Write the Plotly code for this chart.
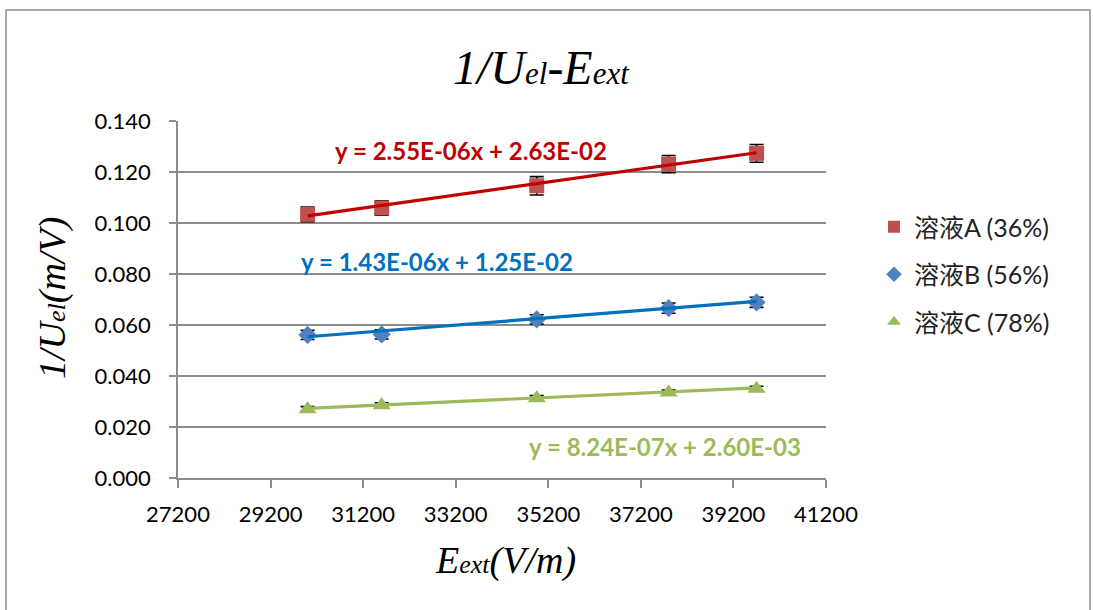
import plotly.graph_objects as go

# Applied field E_ext (V/m) for each measurement
e_ext = [30000, 31600, 34950, 37800, 39700]

# 1/U_el (m/V) for the three solutions
inv_u_a = [0.1034, 0.1059, 0.1146, 0.1231, 0.1273]
inv_u_b = [0.0561, 0.0563, 0.0622, 0.0666, 0.0689]
inv_u_c = [0.0270, 0.0285, 0.0313, 0.0335, 0.0350]

# Uncertainties of 1/U_el
err_a = [0.0029, 0.0028, 0.0036, 0.0034, 0.0035]
err_b = [0.0018, 0.0018, 0.0018, 0.0020, 0.0020]
err_c = [0.0010, 0.0010, 0.0010, 0.0010, 0.0010]

# Linear fits y = slope * x + intercept
slopes = [2.55e-06, 1.43e-06, 8.24e-07]
intercepts = [2.63e-02, 1.25e-02, 2.60e-03]

names = ["溶液A (36%)", "溶液B (56%)", "溶液C (78%)"]
fit_labels = ["y = 2.55E-06x + 2.63E-02",
              "y = 1.43E-06x + 1.25E-02",
              "y = 8.24E-07x + 2.60E-03"]
fit_label_pos = [(33520, 0.1285), (32790, 0.0848), (37730, 0.0124)]

x_ticks = [27200, 29200, 31200, 33200, 35200, 37200, 39200, 41200]
y_ticks = [0.000, 0.020, 0.040, 0.060, 0.080, 0.100, 0.120, 0.140]

marker_colors = ["#C0504D", "#4F81BD", "#9BBB59"]
line_colors = ["#C00000", "#0070C0", "#9BBB59"]
symbols = ["square", "diamond", "triangle-up"]
sizes = [15, 14, 16]

series = [inv_u_a, inv_u_b, inv_u_c]
errors = [err_a, err_b, err_c]

# Plot-area geometry in pixels (figure is 1093 x 610)
L, R, T, B = 178, 826, 121, 478


def px_x(p):
    return (p - L) / (R - L)


def px_y(p):
    return (B - p) / (B - T)


fig = go.Figure()

for i in range(3):
    fig.add_trace(go.Scatter(
        x=e_ext, y=series[i], mode="markers", name=names[i],
        legendgroup=str(i),
        marker=dict(symbol=symbols[i], size=sizes[i], color=marker_colors[i]),
        error_y=dict(type="data", array=errors[i], visible=True,
                     color="black", thickness=1.6, width=7),
    ))

# Trendlines over the data span
for i in range(3):
    xs = [e_ext[0], e_ext[-1]]
    ys = [slopes[i] * x + intercepts[i] for x in xs]
    fig.add_trace(go.Scatter(
        x=xs, y=ys, mode="lines", showlegend=False, hoverinfo="skip",
        line=dict(color=line_colors[i], width=3.2),
    ))

serif = "Liberation Serif, Times New Roman, serif"
sans = "Lato, Noto Sans CJK SC, sans-serif"

annotations = []
for i in range(3):
    annotations.append(dict(
        x=fit_label_pos[i][0], y=fit_label_pos[i][1], xref="x", yref="y",
        text="<b>" + fit_labels[i] + "</b>", showarrow=False,
        font=dict(family=sans, size=24, color=line_colors[i]),
    ))

# Chart title and axis titles
annotations.append(dict(
    x=px_x(541), y=px_y(67), xref="paper", yref="paper",
    text="<i>1/U<span style='font-size:31px'>el</span>-E<span style='font-size:31px'>ext</span></i>",
    showarrow=False, font=dict(family=serif, size=48, color="black"),
    xanchor="center", yanchor="middle",
))
annotations.append(dict(
    x=px_x(505), y=px_y(560), xref="paper", yref="paper",
    text="<i>E<span style='font-size:26px'>ext</span>(V/m)</i>",
    showarrow=False, font=dict(family=serif, size=38, color="black"),
    xanchor="center", yanchor="middle",
))
annotations.append(dict(
    x=px_x(52), y=px_y(298), xref="paper", yref="paper",
    text="<i>1/U<span style='font-size:26px'>el</span>(m/V)</i>",
    showarrow=False, textangle=-90,
    font=dict(family=serif, size=38, color="black"),
    xanchor="center", yanchor="middle",
))

fig.update_layout(
    width=1093, height=610,
    margin=dict(l=L, r=1093 - R, t=T, b=610 - B),
    paper_bgcolor="white", plot_bgcolor="white",
    showlegend=True,
    legend=dict(
        x=px_x(874), y=px_y(204),
        xanchor="left", yanchor="top",
        font=dict(family=sans, size=25, color="#222222"),
        traceorder="grouped", tracegroupgap=12,
        itemsizing="constant", itemwidth=30,
        bgcolor="rgba(0,0,0,0)",
    ),
    annotations=annotations,
    shapes=[dict(
        type="rect", xref="paper", yref="paper",
        x0=px_x(6), x1=px_x(1090),
        y0=px_y(640), y1=px_y(10),
        line=dict(color="#8C8C8C", width=1.5), layer="below",
    )],
    xaxis=dict(
        range=[27200, 41200], tickvals=x_ticks,
        ticktext=[str(v) for v in x_ticks],
        showgrid=False, zeroline=False,
        showline=True, linecolor="#8C8C8C", linewidth=1.5,
        ticks="outside", ticklen=8, tickcolor="#8C8C8C", tickwidth=1.5,
        ticklabelstandoff=8,
        tickfont=dict(family=sans, size=22, color="black"),
    ),
    yaxis=dict(
        range=[0, 0.14], tickvals=y_ticks,
        ticktext=["%.3f" % v for v in y_ticks],
        showgrid=True, gridcolor="#8C8C8C", gridwidth=1.5,
        zeroline=False,
        showline=True, linecolor="#8C8C8C", linewidth=1.5,
        ticks="outside", ticklen=7, tickcolor="#8C8C8C", tickwidth=1.5,
        ticklabelstandoff=14,
        tickfont=dict(family=sans, size=22, color="black"),
    ),
)

fig.write_html("out.html")
